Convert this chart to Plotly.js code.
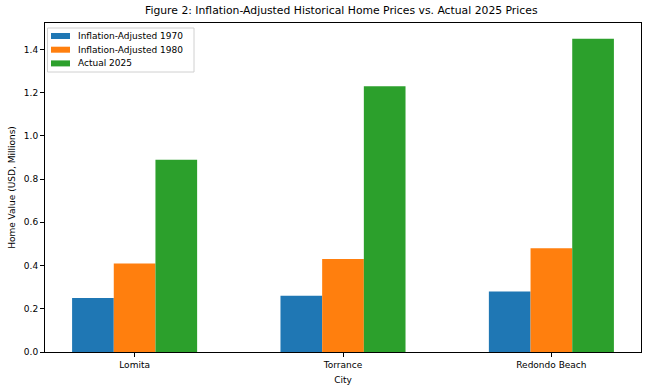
<!DOCTYPE html>
<html><head><meta charset="utf-8">
<script src="https://cdn.plot.ly/plotly-3.0.1.min.js"></script>
<style>body{margin:0;background:#fff}#c{width:650px;height:390px}</style>
</head><body><div id="c"></div>
<script>
const cities = ["Lomita", "Torrance", "Redondo Beach"];
const adj1970 = [0.25, 0.26, 0.28];
const adj1980 = [0.41, 0.43, 0.48];
const actual2025 = [0.89, 1.23, 1.45];
const seriesNames = ["Inflation-Adjusted 1970", "Inflation-Adjusted 1980", "Actual 2025"];
const colors = ["#1f77b4", "#ff7f0e", "#2ca02c"];
const yTicks = [0, 0.2, 0.4, 0.6, 0.8, 1.0, 1.2, 1.4];

const W = 650, H = 390, M = {l: 45, r: 9, t: 23, b: 38};
const pw = W - M.l - M.r, ph = H - M.t - M.b;
const px = x => (x - M.l) / pw;
const py = y => (H - M.b - y) / ph;

const font = {family: "DejaVu Sans, sans-serif", color: "#000", size: 9};
const data = [adj1970, adj1980, actual2025].map((v, i) => ({
  type: "bar", x: cities, y: v, name: seriesNames[i],
  marker: {color: colors[i], line: {width: 0}}, hoverinfo: "none"
}));

// custom matplotlib-like legend
const shapes = [{type: "rect", xref: "paper", yref: "paper",
  x0: px(47.5), x1: px(194), y0: py(72), y1: py(28),
  fillcolor: "rgba(255,255,255,0.8)", line: {color: "#d0d0d0", width: 1}}];
const annotations = [];
seriesNames.forEach((n, i) => {
  const cy = 36 + i * 13.7;
  shapes.push({type: "rect", xref: "paper", yref: "paper",
    x0: px(51), x1: px(70), y0: py(cy + 3), y1: py(cy - 3),
    fillcolor: colors[i], line: {width: 0}});
  annotations.push({xref: "paper", yref: "paper", x: px(76), y: py(cy),
    xanchor: "left", yanchor: "middle", text: n, showarrow: false,
    font: {size: 9}});
});

const layout = {
  width: W, height: H, margin: M,
  paper_bgcolor: "#fff", plot_bgcolor: "#fff", font: font,
  title: {text: "Figure 2: Inflation-Adjusted Historical Home Prices vs. Actual 2025 Prices",
          font: {family: font.family, size: 10.8, color: "#000"}, x: 0.525, xanchor: "center", y: 0.983, yanchor: "top"},
  barmode: "group", bargap: 0.4, bargroupgap: 0,
  xaxis: {
    title: {text: "City", font: {size: 9}, standoff: 7},
    showline: true, linecolor: "#000", linewidth: 1, mirror: true,
    ticks: "outside", ticklen: 4, tickcolor: "#000", showgrid: false, zeroline: false,
    range: [-0.43, 2.43], tickfont: {size: 9}
  },
  yaxis: {
    title: {text: "Home Value (USD, Millions)", font: {size: 9}, standoff: 6},
    showline: true, linecolor: "#000", linewidth: 1, mirror: true,
    ticks: "outside", ticklen: 4, tickcolor: "#000", showgrid: false, zeroline: false,
    range: [0, 1.5225], tickvals: yTicks, ticktext: yTicks.map(t => t.toFixed(1)), tickfont: {size: 9}
  },
  showlegend: false, shapes: shapes, annotations: annotations
};
Plotly.newPlot("c", data, layout, {staticPlot: true, displayModeBar: false});
</script></body></html>
